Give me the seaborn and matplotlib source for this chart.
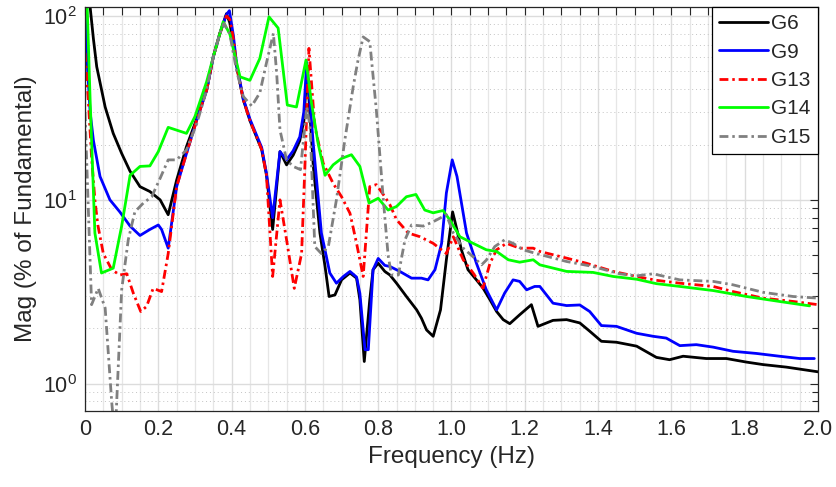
import numpy as np
import pandas as pd
import matplotlib
matplotlib.use("Agg")
import matplotlib.pyplot as plt
from matplotlib.ticker import MultipleLocator, FixedLocator, FixedFormatter, LogLocator, NullFormatter
import seaborn as sns

# ---------------- data ----------------
series_names = ["G6", "G9", "G13", "G14", "G15"]

g6_freq = [0, 0.014, 0.023, 0.032, 0.055, 0.077, 0.1, 0.123, 0.15, 0.177, 0.205, 0.227, 0.25, 0.277, 0.3,
           0.332, 0.35, 0.368, 0.386, 0.395, 0.405, 0.414, 0.432, 0.45, 0.468, 0.482, 0.495, 0.512, 0.532,
           0.55, 0.568, 0.586, 0.597, 0.606, 0.623, 0.641, 0.655, 0.666, 0.682, 0.7, 0.723, 0.741, 0.75,
           0.762, 0.777, 0.786, 0.8, 0.818, 0.832, 0.85, 0.877, 0.905, 0.918, 0.932, 0.95, 0.97, 0.986,
           1.003, 1.015, 1.027, 1.045, 1.068, 1.086, 1.105, 1.123, 1.141, 1.159, 1.186, 1.218, 1.236,
           1.277, 1.314, 1.35, 1.377, 1.409, 1.45, 1.505, 1.559, 1.595, 1.632, 1.695, 1.75, 1.805, 1.85,
           1.914, 2.0]
g6_mag = [250, 112, 75, 53, 32, 23, 17.9, 14.3, 11.8, 11.1, 10, 8.3, 12.8, 19.5, 26,
          39.6, 60, 80.5, 103, 92, 70, 53, 35, 27, 22, 18.8, 13.7, 6.9, 18.3,
          15.5, 17.5, 21, 27, 51, 15.2, 6.6, 4.34, 2.98, 3.04, 3.67, 4.0, 3.75, 2.86,
          1.32, 2.86, 4.17, 4.52, 4.08, 3.9, 3.52, 2.98, 2.52, 2.27, 1.96, 1.81, 2.52, 4.72,
          8.6, 6.85, 5.35, 4.17, 3.67, 3.31, 2.86, 2.47, 2.23, 2.12, 2.37, 2.69, 2.05,
          2.21, 2.23, 2.14, 1.93, 1.7, 1.68, 1.6, 1.39, 1.35, 1.41, 1.37, 1.37, 1.31, 1.27,
          1.23, 1.16]

g9_freq = [0, 0.005, 0.014, 0.023, 0.041, 0.068, 0.095, 0.123, 0.15, 0.177, 0.2, 0.209, 0.227, 0.25, 0.277,
           0.305, 0.332, 0.35, 0.368, 0.386, 0.394, 0.405, 0.414, 0.432, 0.45, 0.468, 0.482, 0.495, 0.512,
           0.532, 0.55, 0.568, 0.586, 0.597, 0.605, 0.623, 0.645, 0.668, 0.686, 0.705, 0.723, 0.741, 0.75,
           0.764, 0.773, 0.786, 0.8, 0.818, 0.832, 0.859, 0.891, 0.918, 0.936, 0.955, 0.973, 0.986, 1.002,
           1.015, 1.041, 1.068, 1.095, 1.123, 1.145, 1.168, 1.186, 1.205, 1.227, 1.241, 1.277, 1.314, 1.35,
           1.377, 1.409, 1.45, 1.505, 1.55, 1.586, 1.623, 1.668, 1.714, 1.768, 1.832, 1.895, 1.95, 1.99]
g9_mag = [110, 60, 30, 21, 13.4, 10, 8.6, 7.2, 6.4, 6.9, 7.3, 6.9, 5.46, 11.8, 17.9,
          27.2, 39.6, 60, 80.5, 102, 107, 78, 54, 35.5, 27.5, 22.5, 19.3, 14, 8.0,
          18.3, 16.5, 18.5, 22, 30, 56, 20, 6.6, 4.0, 3.52, 3.83, 4.08, 3.8, 3.1,
          1.53, 1.53, 4.17, 4.8, 4.4, 4.34, 4.08, 3.75, 3.75, 3.67, 4.17, 5.8, 10.9, 16.5,
          13.4, 6.6, 4.52, 3.24, 2.52, 3.11, 3.67, 3.6, 3.24, 3.38, 3.38, 2.74, 2.66, 2.68,
          2.47, 2.07, 2.05, 1.88, 1.81, 1.77, 1.61, 1.63, 1.58, 1.5, 1.46, 1.41, 1.37, 1.37]

g13_freq = [0, 0.009, 0.018, 0.027, 0.035, 0.05, 0.073, 0.095, 0.114, 0.132, 0.152, 0.168, 0.186, 0.209,
            0.227, 0.25, 0.277, 0.305, 0.332, 0.35, 0.368, 0.386, 0.395, 0.405, 0.414, 0.432, 0.45, 0.468,
            0.482, 0.495, 0.512, 0.532, 0.55, 0.571, 0.591, 0.6, 0.611, 0.627, 0.65, 0.677, 0.7, 0.723,
            0.741, 0.759, 0.777, 0.795, 0.818, 0.832, 0.85, 0.882, 0.914, 0.95, 0.986, 1.005, 1.032, 1.059,
            1.086, 1.105, 1.123, 1.15, 1.186, 1.223, 1.241, 1.314, 1.368, 1.441, 1.505, 1.559, 1.623,
            1.714, 1.768, 1.85, 1.932, 2.0]
g13_mag = [63, 35, 17, 10, 7.3, 5.1, 4.17, 3.9, 3.96, 3.1, 2.47, 2.63, 3.3, 3.17,
           5.1, 11.8, 17.9, 27.2, 39.6, 60, 80.5, 100, 96, 75, 53, 35, 27, 22,
           18.8, 13.7, 3.83, 10, 6.06, 3.3, 5.1, 15.2, 66.7, 25, 15.8, 12.3, 10.4, 8.45,
           5.8, 3.83, 11.8, 12.1, 10.4, 9.4, 7.8, 6.6, 6.3, 5.8, 5.1, 6.3, 4.72, 4.0,
           3.31, 4.52, 5.35, 5.8, 5.46, 5.46, 5.24, 4.82, 4.52, 4.08, 3.83, 3.65, 3.52,
           3.38, 3.17, 2.92, 2.8, 2.69]

g14_freq = [0, 0.006, 0.014, 0.027, 0.045, 0.077, 0.1, 0.123, 0.15, 0.177, 0.2, 0.227, 0.277, 0.3, 0.332,
            0.35, 0.377, 0.395, 0.423, 0.45, 0.477, 0.502, 0.527, 0.552, 0.577, 0.603, 0.618, 0.636,
            0.655, 0.677, 0.7, 0.727, 0.75, 0.775, 0.8, 0.827, 0.85, 0.877, 0.903, 0.927, 0.95, 0.977,
            0.995, 1.023, 1.059, 1.095, 1.123, 1.155, 1.186, 1.223, 1.241, 1.314, 1.386, 1.441, 1.505,
            1.559, 1.623, 1.714, 1.805, 1.895, 1.977]
g14_mag = [250, 112, 35, 6.6, 4.0, 4.25, 7.2, 13.6, 15.2, 15.3, 18.3, 24.8, 23, 28.4, 44,
           60, 93, 80, 46.7, 44.7, 58.8, 99, 86, 32.8, 32, 57.6, 33.6, 20.3,
           13.6, 15.5, 16.8, 17.6, 15.2, 9.6, 10.2, 8.8, 9.2, 10.4, 10.7, 8.8, 8.5, 8.75,
           7.8, 6.3, 5.8, 5.35, 5.24, 4.72, 4.58, 4.72, 4.43, 4.08, 4.03, 3.83, 3.7,
           3.5, 3.38, 3.21, 2.98, 2.8, 2.65]

g15_freq = [0, 0.018, 0.036, 0.055, 0.073, 0.082, 0.1, 0.118, 0.136, 0.159, 0.182, 0.205, 0.227, 0.25,
            0.277, 0.305, 0.332, 0.35, 0.368, 0.379, 0.395, 0.414, 0.432, 0.455, 0.477, 0.495, 0.514,
            0.523, 0.532, 0.55, 0.568, 0.588, 0.605, 0.614, 0.627, 0.645, 0.664, 0.686, 0.709, 0.732,
            0.745, 0.759, 0.777, 0.795, 0.814, 0.827, 0.836, 0.855, 0.873, 0.891, 0.923, 0.95, 0.986,
            1.005, 1.032, 1.059, 1.082, 1.095, 1.118, 1.145, 1.168, 1.195, 1.232, 1.314, 1.386, 1.459,
            1.505, 1.55, 1.623, 1.714, 1.768, 1.85, 1.932, 2.0]
g15_mag = [30, 2.69, 3.3, 2.58, 0.79, 0.5, 3.24, 6.06, 8.6, 9.6, 10.4, 13.1, 16.5, 16.5,
           18.7, 26, 39.6, 60, 80.5, 91, 80, 50, 36.5, 32.4, 38.2, 55.5, 80.5,
           48.7, 24, 16.5, 15.2, 14.6, 32, 25.1, 5.57, 5.1, 5.57, 10, 21.2, 41.5,
           57.6, 77, 72.6, 30.7, 10, 5.0, 3.9, 3.9, 6.06, 7.3, 7.2, 7.6, 8.3,
           6.6, 5.46, 4.9, 4.43, 4.7, 5.57, 6.06, 5.8, 5.35, 5.1, 4.62, 4.34, 3.96,
           3.86, 3.96, 3.67, 3.6, 3.45, 3.14, 2.98, 2.92]

x_ticks = [0, 0.2, 0.4, 0.6, 0.8, 1.0, 1.2, 1.4, 1.6, 1.8, 2.0]
x_tick_labels = ["0", "0.2", "0.4", "0.6", "0.8", "1.0", "1.2", "1.4", "1.6", "1.8", "2.0"]

# ---------------- style ----------------
sns.set_theme(style="white")
plt.rcParams["font.family"] = ["Liberation Sans", "DejaVu Sans"]
plt.rcParams["mathtext.fontset"] = "custom"
plt.rcParams["mathtext.rm"] = "Liberation Sans"
plt.rcParams["mathtext.it"] = "Liberation Sans:italic"
plt.rcParams["mathtext.default"] = "regular"

fig = plt.figure(figsize=(8.37, 4.87), dpi=100)
ax = fig.add_axes([85 / 837, 1 - 411 / 487, 733 / 837, 404 / 487])

lw = 2.0
dashdot = (0, (3.2, 1.4, 0.9, 1.4))
styles = {
    "G6": dict(color="black", linestyle="-"),
    "G9": dict(color="#0000ff", linestyle="-"),
    "G13": dict(color="#ff0000", linestyle=dashdot),
    "G14": dict(color="#00ff00", linestyle="-"),
    "G15": dict(color="#808080", linestyle=dashdot),
}
data = {
    "G6": (g6_freq, g6_mag),
    "G9": (g9_freq, g9_mag),
    "G13": (g13_freq, g13_mag),
    "G14": (g14_freq, g14_mag),
    "G15": (g15_freq, g15_mag),
}

for name in series_names:
    f, m = data[name]
    assert len(f) == len(m), name
    df = pd.DataFrame({"Frequency": f, "Mag": m})
    sns.lineplot(data=df, x="Frequency", y="Mag", ax=ax, estimator=None, sort=False,
                 lw=lw, label=name, legend=False, **styles[name])

ax.set_yscale("log")
ax.set_xlim(0, 2.0)
ax.set_ylim(0.71, 112)

ax.xaxis.set_major_locator(FixedLocator(x_ticks))
ax.xaxis.set_major_formatter(FixedFormatter(x_tick_labels))
ax.xaxis.set_minor_locator(MultipleLocator(0.05))
ax.yaxis.set_major_locator(LogLocator(base=10, numticks=10))
ax.yaxis.set_minor_locator(LogLocator(base=10, subs=np.arange(2, 10), numticks=20))
ax.yaxis.set_minor_formatter(NullFormatter())

ax.set_axisbelow(True)
ax.grid(which="major", axis="both", color="#dcdcdc", lw=1.0, ls="-")
ax.xaxis.grid(which="minor", color="#e6e6e6", lw=0.9, ls="-")
ax.yaxis.grid(which="minor", color="#c4c4c4", lw=0.7, ls=(0, (1, 3)))

for s in ax.spines.values():
    s.set_color("#262626")
    s.set_linewidth(0.9)

ax.tick_params(which="both", direction="in", top=True, right=True, colors="#262626",
               labelcolor="#262626", width=0.8)
ax.tick_params(which="major", length=6, labelsize=15.5, pad=6)
ax.tick_params(axis="x", which="minor", length=6)
ax.tick_params(axis="y", which="minor", length=4)

ax.set_xlabel("Frequency (Hz)", fontsize=17.5, color="#262626", labelpad=4)
ax.set_ylabel("Mag (% of Fundamental)", fontsize=17.5, color="#262626", labelpad=4)

leg = ax.legend(loc="upper right", borderaxespad=0, fontsize=15, frameon=True, fancybox=False,
                edgecolor="black", framealpha=1, handlelength=2.35, handletextpad=0.15,
                labelspacing=0.45, borderpad=0.35)
leg.get_frame().set_linewidth(0.9)

fig.savefig("out.png", dpi=100)
